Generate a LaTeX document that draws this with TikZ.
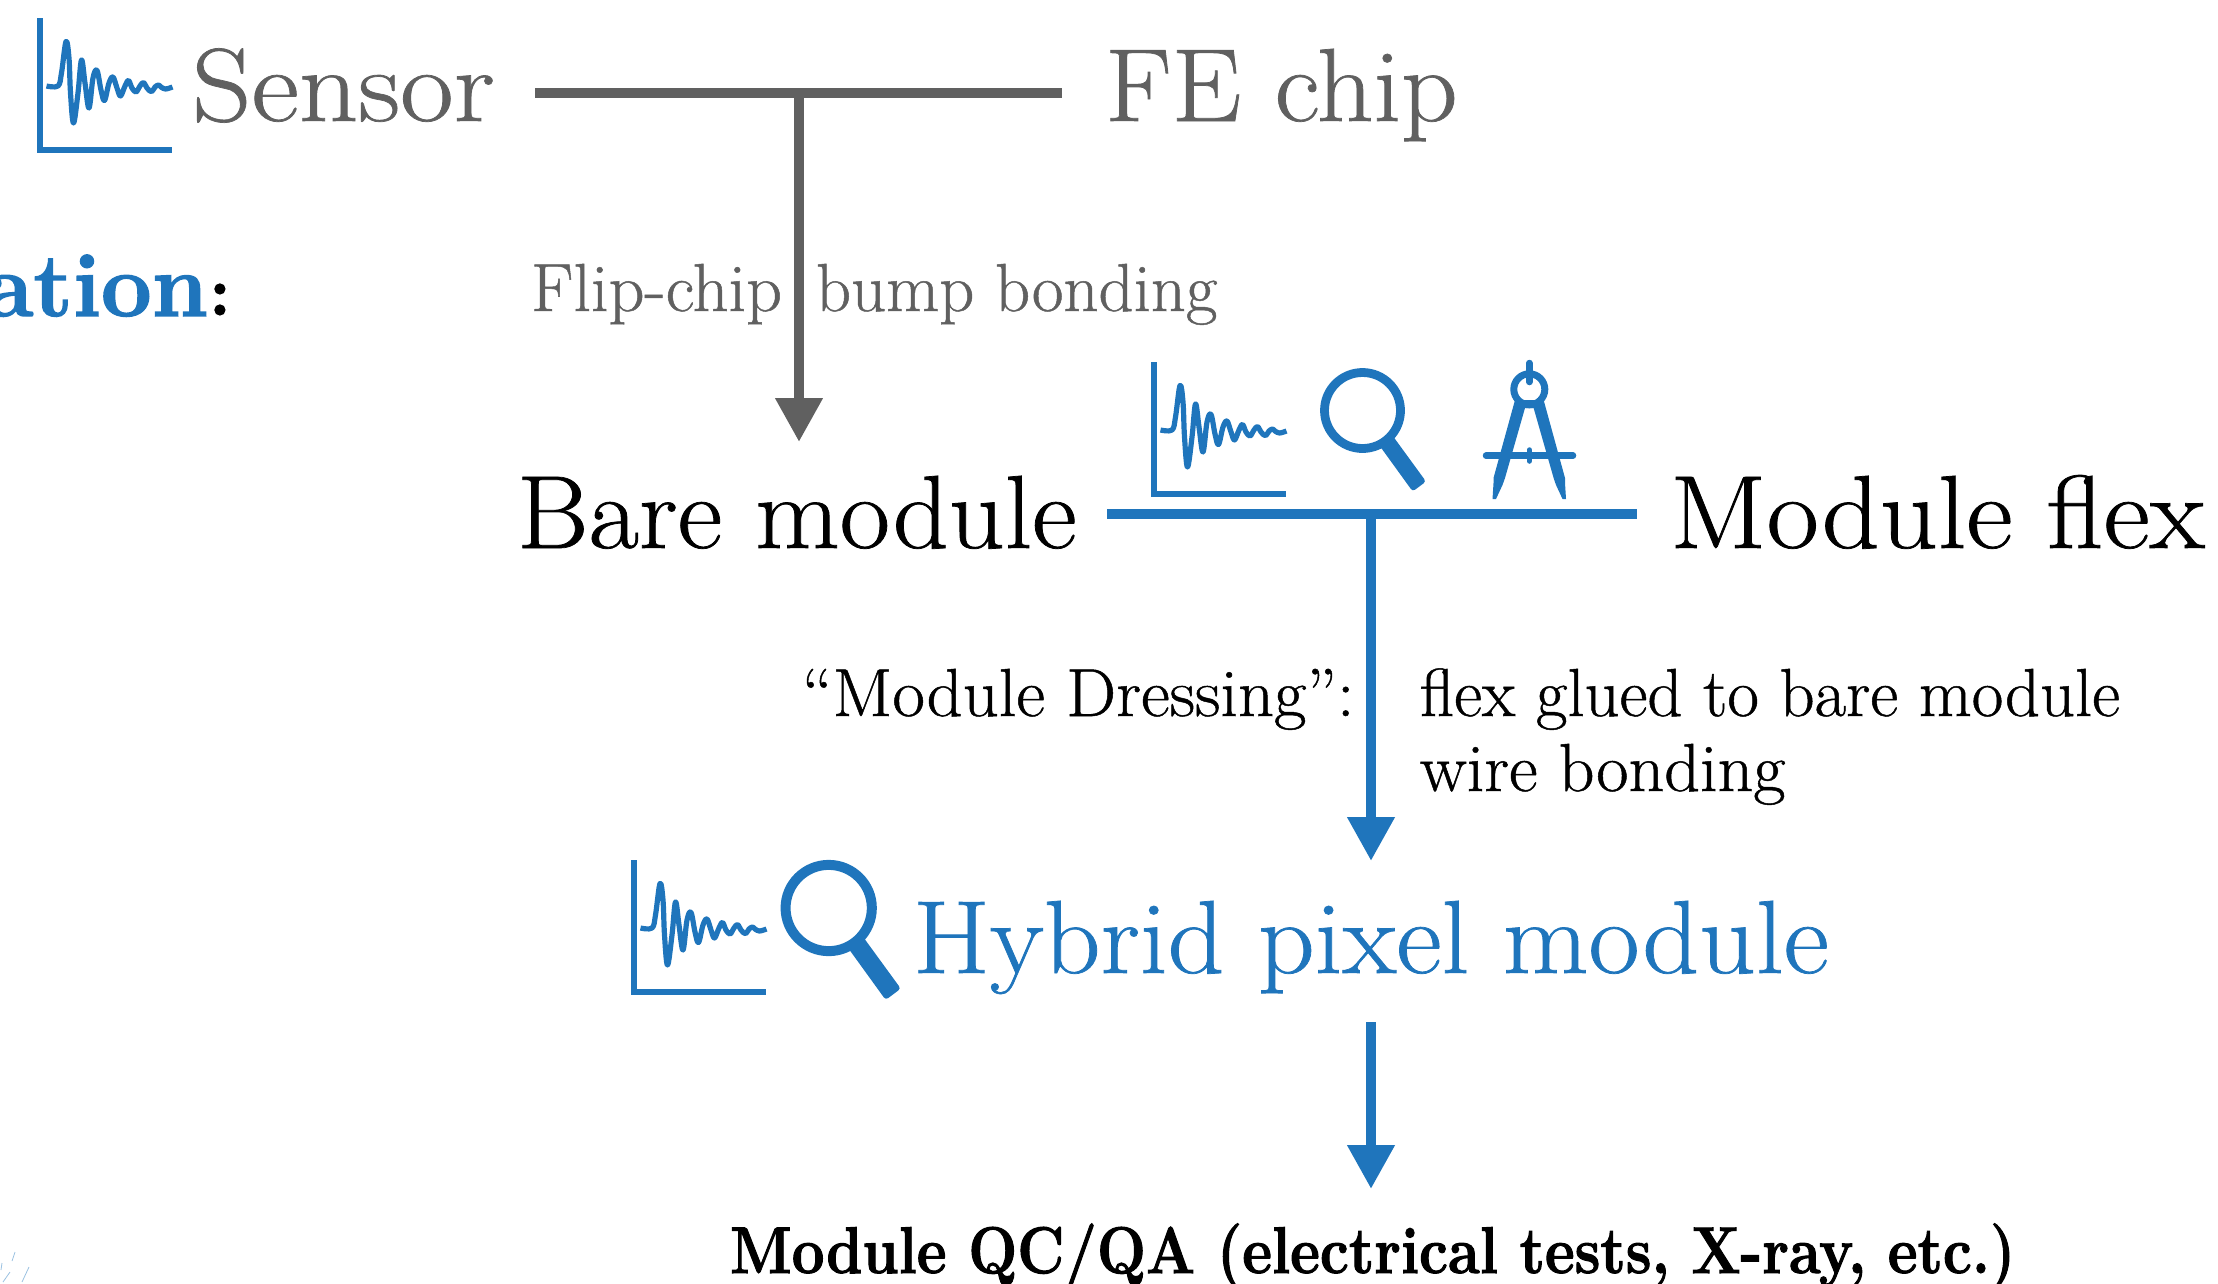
\documentclass[tikz,border=0pt]{standalone}
\usepackage{fontspec}
\usepackage{graphicx}
\usetikzlibrary{arrows.meta}
\newfontfamily\bk{Latin Modern Roman}[FakeBold=0.7]
\newfontfamily\bkbase{Latin Modern Roman}[BoldFeatures={FakeBold=1.6}]
\newcommand{\bkb}{\bkbase\bfseries}
\definecolor{iblue}{HTML}{1F75BC}
\definecolor{igrey}{HTML}{606060}
\newcommand{\fs}[1]{\fontsize{#1}{#1}\selectfont}
\newcommand{\sx}[2]{\scalebox{#1}[1]{#2}}
\newcommand{\waveicon}[2]{%
  \begin{scope}[shift={(#1,#2)},iblue]
    \draw[line width=5.8pt,line join=miter] (3,0) -- (3,132) -- (135,132);
    \draw[line width=5.2pt,line cap=butt,line join=round,smooth,tension=0.6] plot coordinates {(9.5,68) (21,68) (24.5,55) (29,23.5) (32,40) (33.5,75) (36.5,105) (41,75) (44.5,42) (48,65) (52,90) (56,60) (60,52.5) (64,72) (67.5,82.5) (72,65) (76,59) (80,70) (83.5,78) (88,68) (91.5,62.5) (95,70) (99,74) (103,68) (106.5,64.5) (110,70) (114.5,73.7) (118,69) (121.5,67) (124,69) (128.5,71) (135.5,69)};
  \end{scope}}
\newcommand{\lensicon}[3]{%
  \begin{scope}[shift={(#1,#2)},scale=#3,iblue]
    \draw[line width=#3*8.8pt] (0,0) circle (38);
    \fill[rounded corners=3pt] (28.5,23) -- (63.5,71) -- (50.2,81) -- (16.2,34) -- cycle;
  \end{scope}}
\begin{document}
\begin{tikzpicture}[x=1pt,y=-1pt,
  lab/.style={anchor=base west,inner sep=0pt,outer sep=0pt},
  labe/.style={anchor=base east,inner sep=0pt,outer sep=0pt},
  gbar/.style={igrey,line width=10.5pt},
  gbarv/.style={igrey,line width=10.5pt,-{Triangle[length=44pt,width=45pt]}},
  bbar/.style={iblue,line width=10.5pt},
  barv/.style={iblue,line width=10.5pt,-{Triangle[length=44pt,width=45pt]}},
  ]
\useasboundingbox (0,0) rectangle (2218,1283);
% specks
\draw[iblue!45,line width=0.8pt] (15,1252) -- (12,1261) (29,1267) -- (22,1282) (10,1272) -- (3,1282) (2,1263) -- (1,1270);
% text
\node[lab,text=igrey,font=\bk\fs{104}] (sensor) at (192,121) {\sx{1.12}{Sensor}};
\node[lab,text=igrey,font=\bk\fs{104}] (fe) at (1105,121) {\sx{1.065}{FE chip}};
\node[labe,font=\bkb\fs{90},text=iblue] (ation) at (208,316) {ation};
\node[lab,font=\bkb\fs{70}] (colon) at (209,315) {:};
\node[lab,text=igrey,font=\bk\fs{68}] (flip) at (531,311) {\sx{1.035}{Flip-chip}};
\node[lab,text=igrey,font=\bk\fs{68}] (bump) at (816,311) {\sx{1.01}{bump bonding}};
\node[lab,font=\bk\fs{104}] (bare) at (517,548) {\sx{1.053}{Bare module}};
\node[lab,font=\bk\fs{104}] (flex) at (1670,548) {\sx{1.093}{Module flex}};
\node[lab,font=\bk\fs{68}] (dress) at (802,716) {\sx{1.037}{“Module Dressing”:}};
\node[lab,font=\bk\fs{68}] (glued) at (1420,716) {\sx{1.008}{flex glued to bare module}};
\node[lab,font=\bk\fs{68}] (wire) at (1420,791) {\sx{1.03}{wire bonding}};
\node[lab,text=iblue,font=\bk\fs{104}] (hybrid) at (913,973) {\sx{1.068}{Hybrid pixel module}};
\node[lab,font=\bkb\fs{66}] (qc) at (730,1273) {\sx{0.878}{Module QC/QA (electrical tests, X-ray, etc.)}};
% connectors
\coordinate (gl) at (535,93); \coordinate (gr) at (1062,93); \coordinate (gm) at (799,93); \coordinate (gt) at (799,442);
\coordinate (bl) at (1107,514); \coordinate (br) at (1637,514); \coordinate (bm) at (1371,514); \coordinate (bt) at (1371,861);
\coordinate (cs) at (1371,1022); \coordinate (ct) at (1371,1189);
\draw[gbar] (gl) -- (gr);
\draw[gbarv] (gm) -- (gt);
\draw[bbar] (bl) -- (br);
\draw[barv] (bm) -- (bt);
\draw[barv] (cs) -- (ct);
% icons
\waveicon{37}{18}
\waveicon{1151}{362}
\waveicon{631}{860}
\lensicon{1362.5}{410.5}{1}
\lensicon{828.7}{908}{1.135}
% compass
\begin{scope}[iblue]
  \draw[line width=7pt] (1529.3,389.3) circle (15.5);
  \draw[line width=6.5pt,line cap=round] (1529.3,363) -- (1529.3,382);
  \fill (1515,400) -- (1493.5,478) -- (1493.5,483) -- (1492.5,499) -- (1496,499) -- (1502.5,485) -- (1505,478) -- (1525,408) -- (1533.6,408) -- (1553.6,478) -- (1556,485) -- (1562.5,499) -- (1566,499) -- (1565,483) -- (1565,478) -- (1543.6,400) -- cycle;
  \draw[line width=6.5pt,line cap=round] (1486,455.7) -- (1573,455.7);
  \draw[line width=5.5pt,line cap=round] (1529.3,450) -- (1529.3,461);
\end{scope}
\end{tikzpicture}
\end{document}
